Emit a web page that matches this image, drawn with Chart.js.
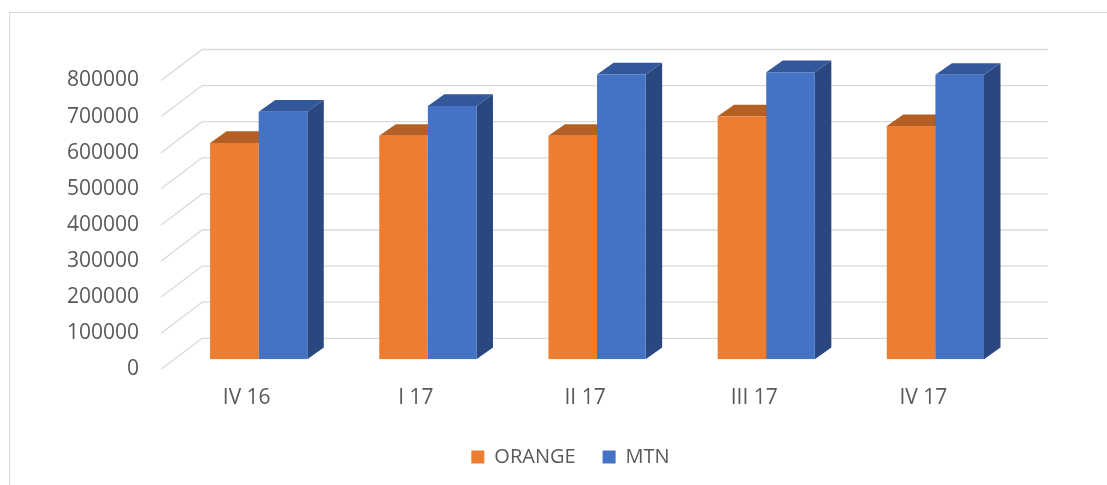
<!DOCTYPE html>
<html>
<head>
<meta charset="utf-8">
<script src="https://cdn.jsdelivr.net/npm/chart.js@4.4.1/dist/chart.umd.min.js"></script>
<style>
  html, body { margin: 0; padding: 0; background: #fff; }
</style>
</head>
<body>
<canvas id="chart" width="1107" height="485"></canvas>
<script>
// Data
const quarters = ['IV 16', 'I 17', 'II 17', 'III 17', 'IV 17'];
const orangeValues = [599000, 619000, 619000, 673000, 646000];
const mtnValues = [686000, 702000, 789000, 795000, 788000];
const yMax = 800000;
const yStep = 100000;

// Fake 3D: the plot area is the front plane of the bars,
// the floor front edge and back wall are shifted from it
const FRONT = { dx: -13, dy: 10 };
const BACK = { dx: 28, dy: -21 };
const SIDE = { dx: 16.5, dy: -11.7 };
const PAD_BOTTOM = 8;
const BAR_BASE_Y = 359.3;

const depthPlugin = {
  id: 'depth',
  afterLayout(chart) {
    // legend sits a bit right of the canvas centre in the original
    chart.legend.left = 121;
  },
  beforeDraw(chart) {
    const ctx = chart.ctx;
    ctx.save();
    ctx.strokeStyle = '#d9d9d9';
    ctx.lineWidth = 1;
    ctx.strokeRect(9.5, 12.5, 1120, 500);
    ctx.restore();
  },
  beforeDatasetsDraw(chart) {
    const { ctx, chartArea } = chart;
    const yScale = chart.scales.y;
    ctx.save();

    // back wall gridlines + floor diagonals
    ctx.strokeStyle = '#d9d9d9';
    ctx.lineWidth = 1.3;
    yScale.ticks.forEach(t => {
      const py = yScale.getPixelForValue(t.value);
      ctx.beginPath();
      ctx.moveTo(chartArea.left + FRONT.dx, py + FRONT.dy);
      ctx.lineTo(chartArea.left + BACK.dx, py + BACK.dy);
      ctx.lineTo(chartArea.right + BACK.dx, py + BACK.dy);
      ctx.stroke();
    });

    // top and side faces, fronts are drawn by Chart.js afterwards
    chart.data.datasets.forEach((ds, i) => {
      chart.getDatasetMeta(i).data.forEach(bar => {
        const { x, y, width, base } = bar.getProps(['x', 'y', 'width', 'base'], true);
        const l = x - width / 2;
        const r = x + width / 2;

        ctx.fillStyle = ds.sideColor;
        ctx.beginPath();
        ctx.moveTo(r, y);
        ctx.lineTo(r + SIDE.dx, y + SIDE.dy);
        ctx.lineTo(r + SIDE.dx, base + SIDE.dy);
        ctx.lineTo(r, base);
        ctx.closePath();
        ctx.fill();

        ctx.fillStyle = ds.topColor;
        ctx.beginPath();
        ctx.moveTo(l, y);
        ctx.lineTo(l + SIDE.dx, y + SIDE.dy);
        ctx.lineTo(r + SIDE.dx, y + SIDE.dy);
        ctx.lineTo(r, y);
        ctx.closePath();
        ctx.fill();
      });
    });
    ctx.restore();
  }
};

Chart.defaults.font.family = "'Open Sans', sans-serif";
Chart.defaults.font.size = 21;
Chart.defaults.color = '#595959';

new Chart(document.getElementById('chart'), {
  type: 'bar',
  data: {
    labels: quarters,
    datasets: [
      {
        label: 'ORANGE',
        data: orangeValues,
        backgroundColor: '#ED7D31',
        topColor: '#B45F23',
        sideColor: '#9C4F1C',
        borderWidth: 0
      },
      {
        label: 'MTN',
        data: mtnValues,
        backgroundColor: '#4472C4',
        topColor: '#32579A',
        sideColor: '#2A4780',
        borderWidth: 0
      }
    ]
  },
  options: {
    responsive: false,
    animation: false,
    layout: { padding: { left: 0, right: 87, top: 70.5, bottom: PAD_BOTTOM } },
    datasets: {
      bar: { categoryPercentage: 0.5745, barPercentage: 1 }
    },
    scales: {
      x: {
        grid: { display: false, drawTicks: false },
        border: { display: false },
        ticks: { padding: 26.6, labelOffset: -12 },
        afterFit(scale) {
          scale.height = scale.chart.height - PAD_BOTTOM - scale.chart.legend.height - BAR_BASE_Y;
        }
      },
      y: {
        min: 0,
        max: yMax,
        grid: { display: false, drawTicks: false },
        border: { display: false },
        ticks: {
          stepSize: yStep,
          padding: 35,
          labelOffset: FRONT.dy,
          callback: v => String(v)
        },
        afterFit(scale) {
          scale.width = 174.1;
        }
      }
    },
    plugins: {
      legend: {
        position: 'bottom',
        labels: { boxWidth: 13, boxHeight: 13, padding: 27, font: { size: 20 } }
      },
      tooltip: { enabled: false }
    }
  },
  plugins: [depthPlugin]
});
</script>
</body>
</html>
